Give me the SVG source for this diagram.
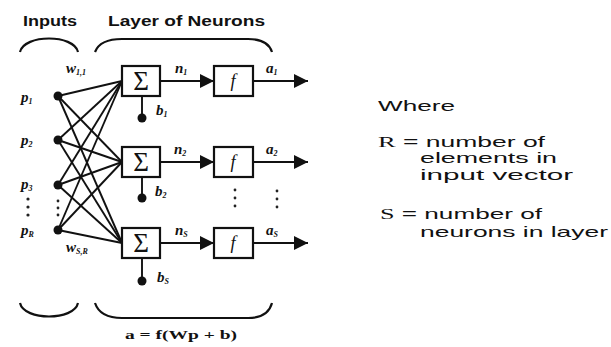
<svg xmlns="http://www.w3.org/2000/svg" width="611" height="347" viewBox="0 0 611 347">
<style>
.bg{fill:#ffffff}
.box{fill:#ffffff;stroke:#111;stroke-width:2.2}
.ln{stroke:#111;stroke-width:1.9;fill:none}
.br{stroke:#111;stroke-width:2.2;fill:none}
.dot{fill:#111}
.sdot{fill:#222}
.hdr{font-family:"Liberation Sans",Arial,sans-serif;font-weight:bold;font-size:14px;fill:#111}
.txt{font-family:"Liberation Sans",Arial,sans-serif;font-size:15px;fill:#111}
.ser{font-family:"Liberation Serif","Times New Roman",serif}
.lab{font-family:"Liberation Serif","Times New Roman",serif;font-style:italic;font-weight:bold;font-size:15px;fill:#111}
.sub{font-size:8px}
.sig{font-family:"Liberation Serif","Times New Roman",serif;font-size:27px;fill:#111;text-anchor:middle}
.fn{font-family:"Liberation Serif","Times New Roman",serif;font-style:italic;font-size:18px;fill:#111;text-anchor:middle}
.eq{font-family:"Liberation Serif","Times New Roman",serif;font-weight:bold;font-size:13px;fill:#111}
</style>
<defs>
<marker id="ah" viewBox="0 0 14 14" refX="14" refY="7" markerWidth="14" markerHeight="14" markerUnits="userSpaceOnUse" orient="auto">
<path d="M0,0 L14,7 L0,14 Z" fill="#111"/>
</marker>
</defs>
<rect class="bg" x="0" y="0" width="611" height="347"/>

<g id="headers">
<text class="hdr" x="23" y="26" textLength="54" lengthAdjust="spacingAndGlyphs">Inputs</text>
<text class="hdr" x="108" y="26" textLength="157" lengthAdjust="spacingAndGlyphs">Layer of Neurons</text>
<path class="br" d="M20,52 C24,34 74,34 78,52"/>
<path class="br" d="M95,52 Q100,39 122,39 L248,39 Q268,39 272,52"/>
<path class="br" d="M20,303 C24,321 74,321 78,303"/>
<path class="br" d="M95,303 Q100,318 122,318 L248,318 Q268,318 272,303"/>
<text class="eq" x="125" y="339" textLength="112" lengthAdjust="spacingAndGlyphs">a = f(Wp + b)</text>
</g>

<g id="connectors">
<line class="ln" x1="58" y1="96" x2="122" y2="81"/>
<line class="ln" x1="58" y1="96" x2="122" y2="162"/>
<line class="ln" x1="58" y1="96" x2="122" y2="243"/>
<line class="ln" x1="58" y1="140" x2="122" y2="81"/>
<line class="ln" x1="58" y1="140" x2="122" y2="162"/>
<line class="ln" x1="58" y1="140" x2="122" y2="243"/>
<line class="ln" x1="58" y1="185" x2="122" y2="81"/>
<line class="ln" x1="58" y1="185" x2="122" y2="162"/>
<line class="ln" x1="58" y1="185" x2="122" y2="243"/>
<line class="ln" x1="58" y1="230" x2="122" y2="81"/>
<line class="ln" x1="58" y1="230" x2="122" y2="162"/>
<line class="ln" x1="58" y1="230" x2="122" y2="243"/>
<line class="ln" x1="160" y1="81" x2="214" y2="81" marker-end="url(#ah)"/>
<line class="ln" x1="160" y1="162" x2="214" y2="162" marker-end="url(#ah)"/>
<line class="ln" x1="160" y1="243" x2="214" y2="243" marker-end="url(#ah)"/>
<line class="ln" x1="253" y1="81" x2="308" y2="81" marker-end="url(#ah)"/>
<line class="ln" x1="253" y1="162" x2="308" y2="162" marker-end="url(#ah)"/>
<line class="ln" x1="253" y1="243" x2="308" y2="243" marker-end="url(#ah)"/>
<line class="ln" x1="142" y1="96" x2="142" y2="118"/>
<line class="ln" x1="142" y1="177" x2="142" y2="198"/>
<line class="ln" x1="142" y1="258" x2="142" y2="281"/>
</g>

<g id="inputs">
<circle class="dot" cx="58" cy="96" r="4.5"/>
<circle class="dot" cx="58" cy="140" r="4.5"/>
<circle class="dot" cx="58" cy="185" r="4.5"/>
<circle class="dot" cx="58" cy="230" r="4.5"/>
<text class="lab" x="21" y="102">p<tspan class="sub" dy="2">1</tspan></text>
<text class="lab" x="21" y="145">p<tspan class="sub" dy="2">2</tspan></text>
<text class="lab" x="21" y="189">p<tspan class="sub" dy="2">3</tspan></text>
<text class="lab" x="21" y="235">p<tspan class="sub" dy="2">R</tspan></text>
<circle class="sdot" cx="28" cy="199" r="1.6"/>
<circle class="sdot" cx="28" cy="207" r="1.6"/>
<circle class="sdot" cx="28" cy="215" r="1.6"/>
<circle class="sdot" cx="58" cy="201" r="1.4"/>
<circle class="sdot" cx="58" cy="208" r="1.4"/>
<circle class="sdot" cx="58" cy="215" r="1.4"/>
<text class="lab" x="66" y="73" font-size="13">w<tspan class="sub" dy="2">1,1</tspan></text>
<text class="lab" x="66" y="252" font-size="13">w<tspan class="sub" dy="2">S,R</tspan></text>
</g>

<g id="neuron1">
<rect class="box" x="122" y="66" width="38" height="30"/>
<text class="sig" x="141" y="90">Σ</text>
<circle class="dot" cx="142" cy="118" r="4.5"/>
<text class="lab" x="156" y="115">b<tspan class="sub" dy="2">1</tspan></text>
<text class="lab" x="175" y="73">n<tspan class="sub" dy="2">1</tspan></text>
</g>
<g id="f1">
<rect class="box" x="214" y="66" width="39" height="30"/>
<text class="fn" x="233" y="87">f</text>
<text class="lab" x="266" y="73">a<tspan class="sub" dy="2">1</tspan></text>
</g>

<g id="neuron2">
<rect class="box" x="122" y="147" width="38" height="30"/>
<text class="sig" x="141" y="171">Σ</text>
<circle class="dot" cx="142" cy="198" r="4.5"/>
<text class="lab" x="155" y="196">b<tspan class="sub" dy="2">2</tspan></text>
<text class="lab" x="174" y="154">n<tspan class="sub" dy="2">2</tspan></text>
</g>
<g id="f2">
<rect class="box" x="214" y="147" width="39" height="30"/>
<text class="fn" x="233" y="168">f</text>
<text class="lab" x="266" y="154">a<tspan class="sub" dy="2">2</tspan></text>
<circle class="sdot" cx="235" cy="190" r="1.4"/>
<circle class="sdot" cx="235" cy="198" r="1.4"/>
<circle class="sdot" cx="235" cy="206" r="1.4"/>
<circle class="sdot" cx="277" cy="191" r="1.4"/>
<circle class="sdot" cx="277" cy="199" r="1.4"/>
<circle class="sdot" cx="277" cy="207" r="1.4"/>
</g>

<g id="neuronS">
<rect class="box" x="122" y="228" width="38" height="30"/>
<text class="sig" x="141" y="252">Σ</text>
<circle class="dot" cx="142" cy="281" r="4.5"/>
<text class="lab" x="157" y="282">b<tspan class="sub" dy="2">S</tspan></text>
<text class="lab" x="175" y="235">n<tspan class="sub" dy="2">S</tspan></text>
</g>
<g id="fS">
<rect class="box" x="214" y="228" width="39" height="30"/>
<text class="fn" x="233" y="249">f</text>
<text class="lab" x="266" y="235">a<tspan class="sub" dy="2">S</tspan></text>
</g>

<g id="legend">
<text class="txt" x="378" y="111" textLength="77" lengthAdjust="spacingAndGlyphs">Where</text>
<text class="txt" x="378" y="147" textLength="167" lengthAdjust="spacingAndGlyphs"><tspan class="ser">R</tspan> = number of</text>
<text class="txt" x="420" y="163" textLength="137" lengthAdjust="spacingAndGlyphs">elements in</text>
<text class="txt" x="420" y="180" textLength="153" lengthAdjust="spacingAndGlyphs">input vector</text>
<text class="txt" x="380" y="219" textLength="162" lengthAdjust="spacingAndGlyphs"><tspan class="ser">S</tspan> = number of</text>
<text class="txt" x="420" y="237" textLength="188" lengthAdjust="spacingAndGlyphs">neurons in layer</text>
</g>
</svg>
